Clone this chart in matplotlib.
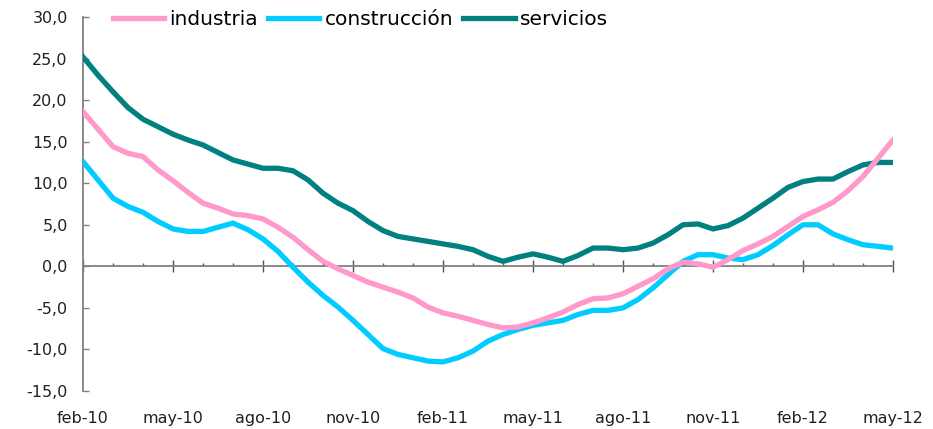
import numpy as np
import matplotlib.pyplot as plt
from matplotlib.ticker import FuncFormatter, MultipleLocator

# half-month readings, feb-10 .. may-12
industria = [18.6, 16.5, 14.4, 13.6, 13.2, 11.6, 10.3, 8.9, 7.6, 7.0,
             6.3, 6.1, 5.7, 4.7, 3.5, 2.0, 0.6, -0.3, -1.1, -1.9,
             -2.5, -3.1, -3.8, -4.9, -5.6, -6.0, -6.5, -7.0, -7.4, -7.3,
             -6.8, -6.2, -5.5, -4.6, -3.9, -3.8, -3.3, -2.4, -1.5, -0.3,
             0.5, 0.3, -0.1, 0.8, 1.9, 2.7, 3.6, 4.8, 6.0, 6.8,
             7.7, 9.1, 10.8, 13.0, 15.2]
construccion = [12.6, 10.4, 8.2, 7.2, 6.5, 5.4, 4.5, 4.2, 4.2, 4.7,
                5.2, 4.4, 3.3, 1.8, -0.1, -1.9, -3.5, -4.9, -6.5, -8.2,
                -9.9, -10.6, -11.0, -11.4, -11.5, -11.0, -10.2, -9.0, -8.2, -7.6,
                -7.1, -6.8, -6.5, -5.8, -5.3, -5.3, -5.0, -4.0, -2.6, -1.0,
                0.6, 1.4, 1.4, 1.0, 0.8, 1.4, 2.5, 3.8, 5.0, 5.0,
                3.9, 3.2, 2.6, 2.4, 2.2]
servicios = [25.2, 23.0, 21.0, 19.1, 17.7, 16.8, 15.9, 15.2, 14.6, 13.7,
             12.8, 12.3, 11.8, 11.8, 11.5, 10.4, 8.8, 7.6, 6.7, 5.4,
             4.3, 3.6, 3.3, 3.0, 2.7, 2.4, 2.0, 1.2, 0.6, 1.1,
             1.5, 1.1, 0.6, 1.3, 2.2, 2.2, 2.0, 2.2, 2.8, 3.8,
             5.0, 5.1, 4.5, 4.9, 5.8, 7.0, 8.2, 9.5, 10.2, 10.5,
             10.5, 11.4, 12.2, 12.5, 12.5]
mes_labels = ['feb-10', 'may-10', 'ago-10', 'nov-10', 'feb-11',
              'may-11', 'ago-11', 'nov-11', 'feb-12', 'may-12']

x = np.arange(len(servicios)) * 0.5  # month index

fig = plt.figure(figsize=(9.33, 4.29), dpi=100)
ax = fig.add_axes([83/933, 1 - 391/429, 810/933, 374/429])

l3, = ax.plot(x, servicios, color='#008080', lw=3.8, zorder=3)
l2, = ax.plot(x, construccion, color='#00CCFF', lw=3.8, zorder=4)
l1, = ax.plot(x, industria, color='#FF99CC', lw=3.8, zorder=5)

ax.set_xlim(0, 27)
ax.set_ylim(-15, 30)
ax.yaxis.set_major_locator(MultipleLocator(5))
ax.yaxis.set_major_formatter(FuncFormatter(lambda v, p: f'{v:.1f}'.replace('.', ',')))
ax.set_xticks(np.arange(0, 28, 3))
ax.set_xticklabels(mes_labels)
ax.xaxis.set_minor_locator(MultipleLocator(1))

for s in ['top', 'right']:
    ax.spines[s].set_visible(False)
ax.spines['bottom'].set_position(('data', 0))
ax.spines['bottom'].set_color('#808080')
ax.spines['left'].set_color('#808080')
ax.spines['bottom'].set_linewidth(1.3)
ax.spines['left'].set_linewidth(1.3)

ax.tick_params(axis='y', direction='in', length=4.5, width=1, color='#808080',
               labelsize=11.5, pad=11, labelcolor='#202020')
ax.tick_params(axis='x', which='major', direction='inout', length=8, width=1,
               color='#505050', labelsize=11.5, pad=100, labelcolor='#202020')
ax.tick_params(axis='x', which='minor', direction='in', length=2.5, width=1,
               color='#505050')

leg = ax.legend([l1, l2, l3], ['industria', 'construcción', 'servicios'],
                loc='upper left', bbox_to_anchor=(113/933, 1 - 10/429),
                bbox_transform=fig.transFigure, ncol=3, frameon=False,
                fontsize=14.5, handlelength=2.55, handletextpad=0.25,
                columnspacing=0.5, borderpad=0, borderaxespad=0)

fig.savefig('out.png', dpi=100)
